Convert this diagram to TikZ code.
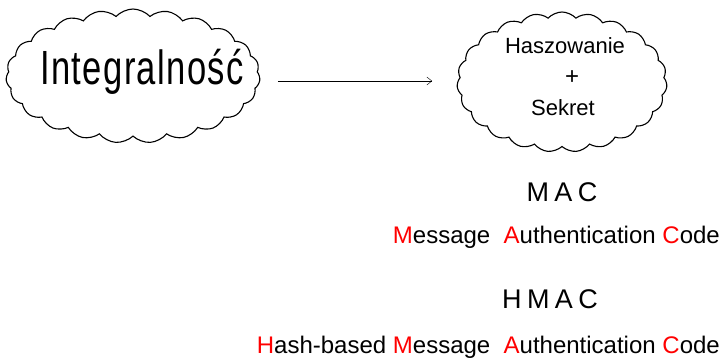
\documentclass[tikz,border=0pt]{standalone}
\usepackage{fontspec}
\setmainfont{Liberation Sans}
\usepackage{xcolor}
\usepackage{tikz}
\usetikzlibrary{positioning, arrows.meta, shapes.symbols}

\tikzset{
  cloudbox/.style={cloud, draw, line width=1.1pt, cloud puffs=23,
    cloud puff arc=95, cloud ignores aspect, inner sep=0pt},
  label/.style={inner sep=0pt, text=black}
}
\newcommand{\initial}[1]{\textcolor{red}{#1}}

\begin{document}
\begin{tikzpicture}[x=1pt, y=-1pt]
        \useasboundingbox (0,0) rectangle (722,361);

        % Left cloud
        \node[cloudbox, minimum width=254, minimum height=134] (integ) at (133,76) {};
        \node[label, font=\fontsize{48}{48}\selectfont\addfontfeature{LetterSpace=4}, xscale=0.72, transform shape]
            (integtext) at (142,72) {Integralność};

        % Right cloud
        \node[cloudbox, minimum width=210, minimum height=140] (secret) at (562,82) {};
        \node[label, font=\fontsize{22}{22}\selectfont] (hash) at (565,46) {Haszowanie};
        \node[label, font=\fontsize{24}{24}\selectfont] (plus) at (572,78) {+};
        \node[label, font=\fontsize{22}{22}\selectfont] (key) at (563,108) {Sekret};

        % Arrow between clouds
        \draw[-{Straight Barb[length=5pt, width=8pt]}, thin, shorten >=25pt]
            (integ.east) ++(18,5) coordinate (a1) -- (a1 -| secret.west) coordinate (a2);

        % MAC
        \node[label, font=\fontsize{27}{27}\selectfont\addfontfeature{LetterSpace=20}]
            (mac) at (562,192) {MAC};
        \node[label, font=\fontsize{24}{24}\selectfont, anchor=east]
            (macfull) at (720,237) {\initial{M}essage\ \ \initial{A}uthentication\ \initial{C}ode};

        % HMAC
        \node[label, font=\fontsize{27}{27}\selectfont\addfontfeature{LetterSpace=20}]
            (hmac) at (550,299) {HMAC};
        \node[label, font=\fontsize{24}{24}\selectfont, anchor=east]
            (hmacfull) at (720,347) {\initial{H}ash-based \initial{M}essage\ \ \initial{A}uthentication\ \initial{C}ode};
    \end{tikzpicture}
\end{document}
